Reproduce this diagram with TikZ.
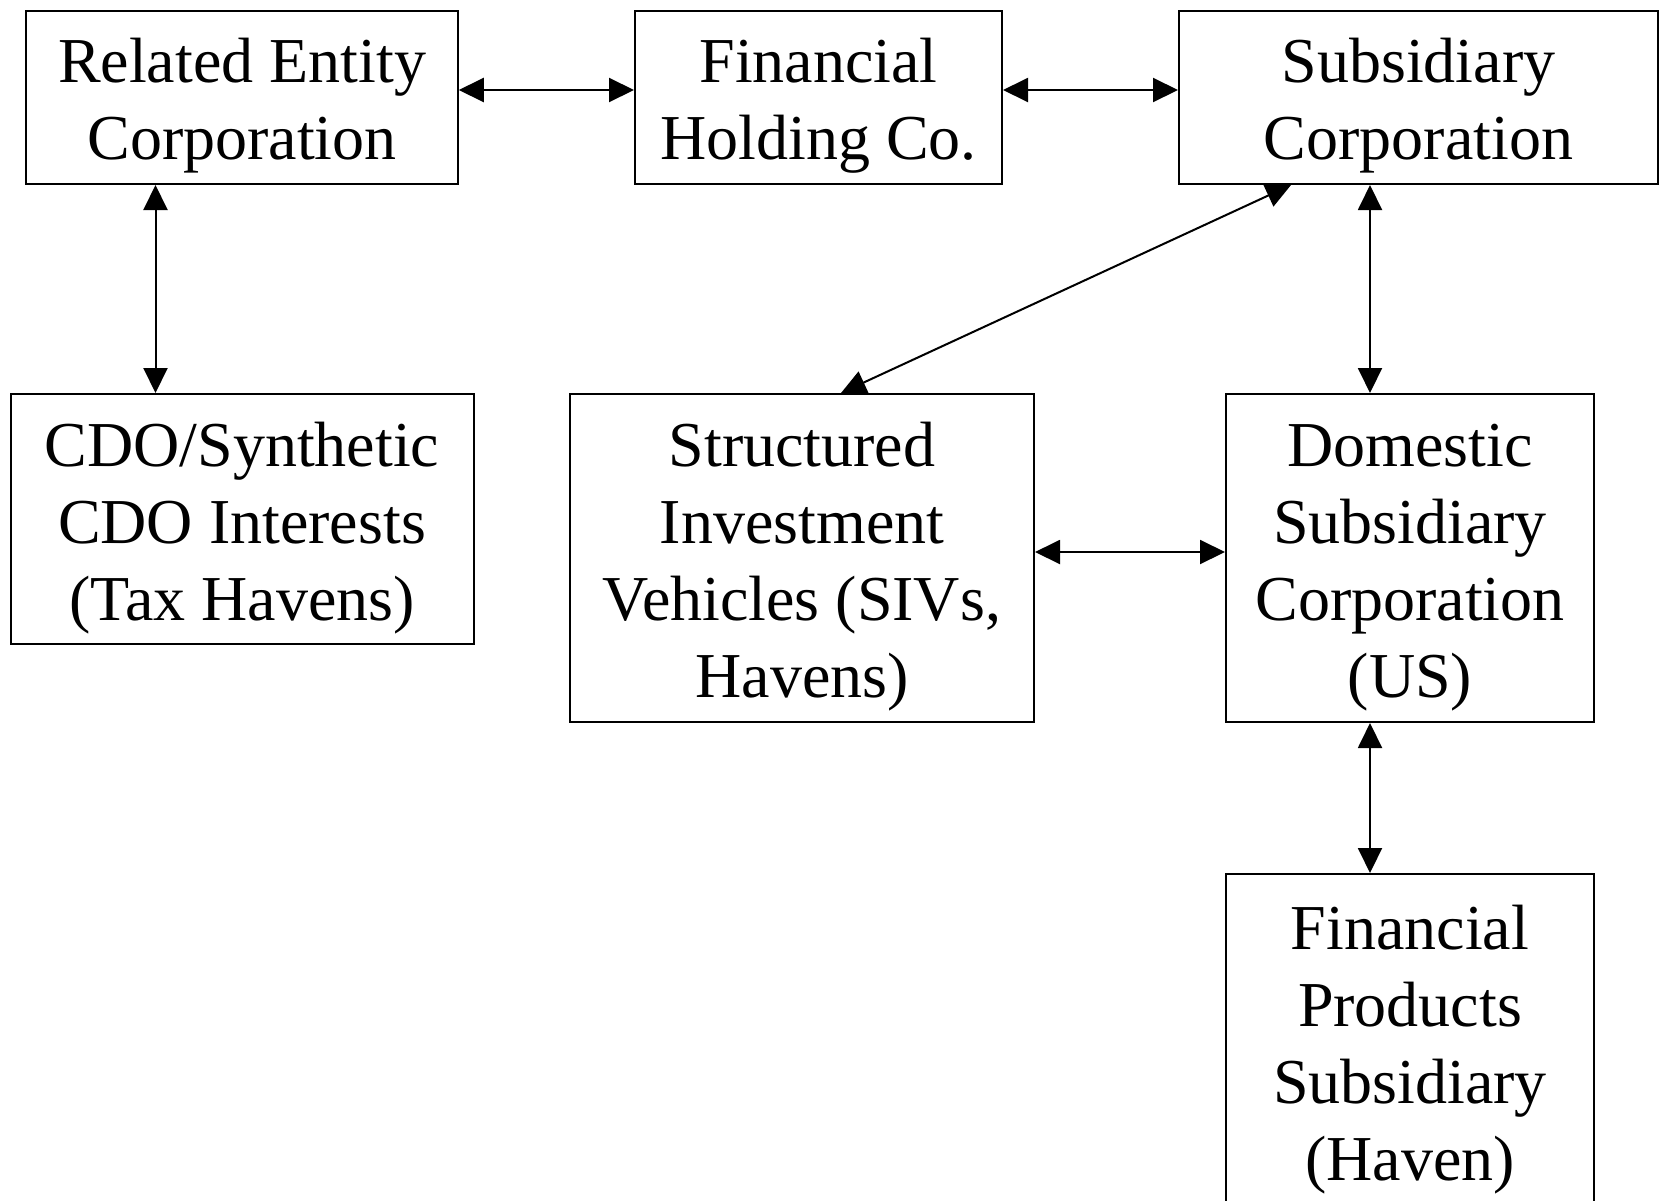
\documentclass[tikz,border=0pt]{standalone}
\usepackage{fontspec}
\setmainfont{Liberation Serif}
\usetikzlibrary{arrows.meta}
\newcommand\topstrut{\rule{0pt}{31pt}}
\begin{document}
\begin{tikzpicture}[x=0.5pt,y=-0.5pt,
  box/.style={draw, line width=1pt, inner sep=0pt, align=center,
    font=\fontsize{32}{38.5}\selectfont},
  arr/.style={line width=1pt,
    {Triangle[length=12.5pt,width=12pt]}-{Triangle[length=12.5pt,width=12pt]}}]
\useasboundingbox (0,0) rectangle (1659,1200);
\node[box, minimum width=215.75pt, minimum height=86.7pt] (b1) at (242,97.3) {\topstrut Related Entity\\Corporation};
\node[box, minimum width=183.5pt, minimum height=86.7pt] (b2) at (818.5,97.3) {\topstrut Financial\\Holding Co.};
\node[box, minimum width=239.5pt, minimum height=86.7pt] (b3) at (1418.5,97.3) {\topstrut Subsidiary\\Corporation};
\node[box, minimum width=231.5pt, minimum height=125pt] (b4) at (242,519) {\topstrut CDO/Synthetic\\CDO Interests\\(Tax Havens)};
\node[box, minimum width=232pt, minimum height=164pt] (b5) at (802,558) {\topstrut Structured\\Investment\\Vehicles (SIVs,\\Havens)};
\node[box, minimum width=184pt, minimum height=164pt] (b6) at (1410,558) {\topstrut Domestic\\Subsidiary\\Corporation\\(US)};
\node[box, minimum width=184pt, minimum height=167pt] (b7) at (1410,1041) {\topstrut Financial\\Products\\Subsidiary\\(Haven)};
\coordinate (xa) at (155.5,0);
\coordinate (xb) at (1370,0);
\coordinate (ya) at (0,90);
\coordinate (yb) at (0,552);
\draw[arr] (b1.east |- ya) -- (b2.west |- ya);
\draw[arr] (b2.east |- ya) -- (b3.west |- ya);
\draw[arr] (b1.south -| xa) -- (b4.north -| xa);
\draw[arr] (b3.south -| xb) -- (b6.north -| xb);
\draw[arr] (b6.south -| xb) -- (b7.north -| xb);
\draw[arr] (b5.east |- yb) -- (b6.west |- yb);
\coordinate (d1) at (1291,184);
\coordinate (d2) at (841,394);
\draw[arr] (b3.south -| d1) -- (b5.north -| d2);
\end{tikzpicture}
\end{document}
